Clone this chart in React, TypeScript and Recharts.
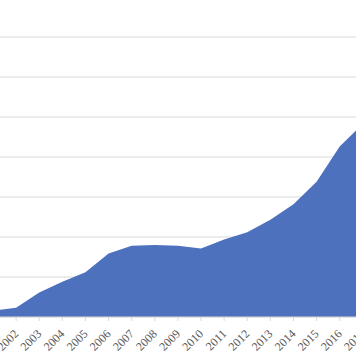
import React from "react";
import { AreaChart, Area, XAxis, YAxis, CartesianGrid } from "recharts";

const years = ["2001","2002","2003","2004","2005","2006","2007","2008","2009","2010","2011","2012","2013","2014","2015","2016","2017"];
const values = [16, 23, 61, 88, 112, 159, 178, 180, 178, 171, 194, 212, 243, 282, 338, 426, 483];
const yTicks = [0, 100, 200, 300, 400, 500, 600, 700, 800];

const data = years.map((y, i) => ({ year: y, value: values[i] }));

const Tick = (props: any) => {
  const { x, y, payload } = props;
  return (
    <g transform={`translate(${x + 3},${y + 13.5})`}>
      <text
        x={0}
        y={0}
        textAnchor="end"
        transform="rotate(-45)"
        fill="#595959"
        fontSize={12}
        fontFamily="'Liberation Serif', serif"
      >
        {payload.value}
      </text>
    </g>
  );
};

export default function App() {
  return (
    <div style={{ position: "fixed", left: 0, top: 0, width: 356, height: 364, overflow: "hidden", background: "#fff" }}>
      <div style={{ position: "absolute", left: -17.4, top: -13 }}>
        <AreaChart
          width={389.8}
          height={390}
          data={data}
          margin={{ top: 10, right: 10, left: 10, bottom: 10 }}
        >
          <CartesianGrid vertical={false} stroke="#d9d9d9" />
          <YAxis hide domain={[0, 800]} ticks={yTicks} />
          <XAxis
            dataKey="year"
            height={50}
            interval={0}
            tick={<Tick />}
            tickSize={4}
            tickMargin={0}
            axisLine={{ stroke: "#d9d9d9" }}
            tickLine={{ stroke: "#d9d9d9" }}
          />
          <Area
            type="linear"
            dataKey="value"
            stroke="none"
            fill="#4E71BE"
            fillOpacity={1}
            isAnimationActive={false}
          />
        </AreaChart>
      </div>
    </div>
  );
}
